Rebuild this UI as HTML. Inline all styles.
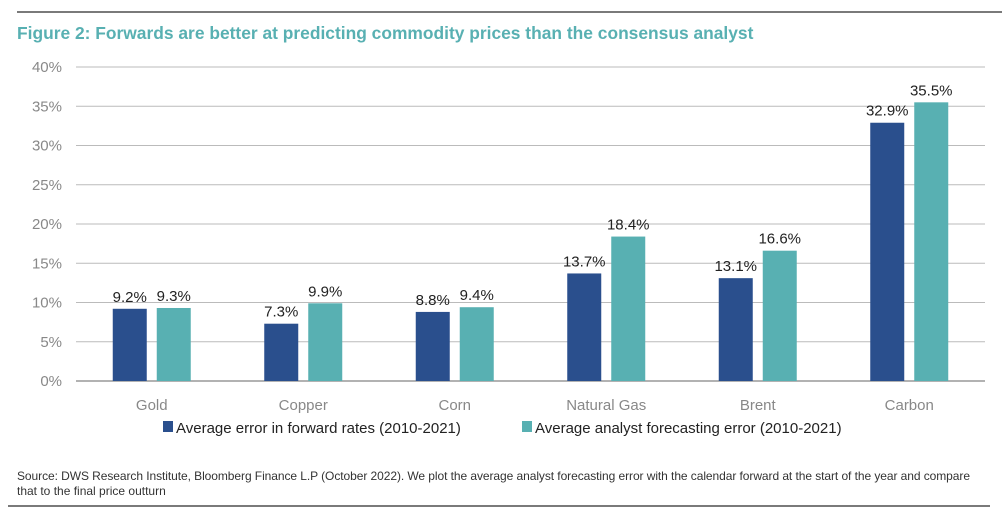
<!DOCTYPE html>
<html><head><meta charset="utf-8"><style>
body{margin:0;background:#fff;width:1002px;height:518px;overflow:hidden;font-family:"Liberation Sans",sans-serif}
</style></head><body>
<svg width="1002" height="518" id="c">
<line x1="17" y1="12" x2="1002" y2="12" stroke="#7a7a7a" stroke-width="2"/>
<text x="17" y="39" fill="#58b0b2" font-size="17.4" font-weight="bold">Figure 2: Forwards are better at predicting commodity prices than the consensus analyst</text>
<g id="grid"></g><g id="bars"></g>
<g>
<rect x="163" y="421" width="10" height="11" fill="#2a4f8d"/>
<text x="176" y="433" font-size="15" fill="#222">Average error in forward rates (2010-2021)</text>
<rect x="522" y="421" width="10" height="11" fill="#58b0b2"/>
<text x="535" y="433" font-size="15" fill="#222">Average analyst forecasting error (2010-2021)</text>
</g>
<text x="17" y="480" font-size="12" fill="#333" textLength="953">Source: DWS Research Institute, Bloomberg Finance L.P (October 2022). We plot the average analyst forecasting error with the calendar forward at the start of the year and compare</text>
<text x="17" y="495" font-size="12" fill="#333">that to the final price outturn</text>
<line x1="8" y1="506" x2="990" y2="506" stroke="#7a7a7a" stroke-width="2"/>
</svg>
<script>
const categories=["Gold","Copper","Corn","Natural Gas","Brent","Carbon"];
const forwardErr=[9.2,7.3,8.8,13.7,13.1,32.9];
const analystErr=[9.3,9.9,9.4,18.4,16.6,35.5];
const ticks=[0,5,10,15,20,25,30,35,40];
const NS="http://www.w3.org/2000/svg";
const x0=76,x1=985,yTop=67,yBot=381,maxV=40;
const y=v=>yBot-(v/maxV)*(yBot-yTop);
const cw=(x1-x0)/categories.length;
const cx=i=>x0+cw*(i+0.5);
function mk(t,a,p,txt){const e=document.createElementNS(NS,t);for(const k in a)e.setAttribute(k,a[k]);if(txt!=null)e.textContent=txt;p.appendChild(e);return e;}
const g=document.getElementById('grid'),b=document.getElementById('bars');
ticks.forEach(t=>{
 const l=mk('line',{x1:x0,x2:x1,y1:y(t),y2:y(t),stroke:t===0?'#999':'#bbb','stroke-width':t===0?1.5:1},g);
 
 
 const tx=mk('text',{x:62,y:y(t)+5,'text-anchor':'end','font-size':15,fill:'#888'},g,t+'%');
 
 
});
categories.forEach((c,i)=>{
 const cl=mk('text',{x:cx(i),y:410,'text-anchor':'middle','font-size':15,fill:'#888'},b,c);
 
 
 [[forwardErr,'#2a4f8d',-39,'bar-forward'],[analystErr,'#58b0b2',5,'bar-analyst']].forEach(([arr,col,off,nm])=>{
  const v=arr[i];
  const r=mk('rect',{x:cx(i)+off,y:y(v),width:34,height:yBot-y(v),fill:col},b);
  
  
  const lb=mk('text',{x:cx(i)+off+17,y:y(v)-7,'text-anchor':'middle','font-size':15,fill:'#222'},b,v.toFixed(1)+'%');
  
  
 });
});
</script>
</body></html>
